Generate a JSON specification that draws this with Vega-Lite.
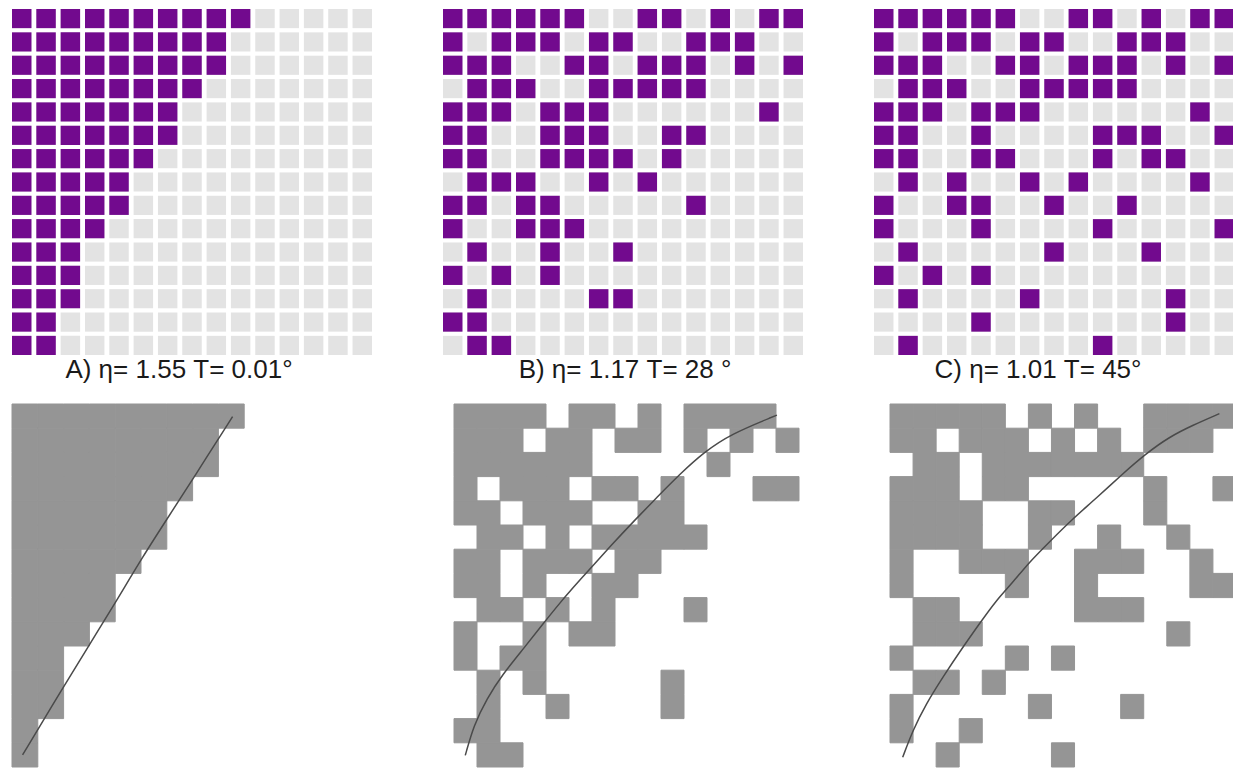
{
 "$schema": "https://vega.github.io/schema/vega-lite/v6.json",
 "padding": {"left": 11, "top": 9, "right": 0, "bottom": 0},
 "background": "white",
 "config": {"view": {"stroke": null}},
 "datasets": {
  "grid": [
   {"r":1,"c":1},{"r":1,"c":2},{"r":1,"c":3},{"r":1,"c":4},{"r":1,"c":5},{"r":1,"c":6},{"r":1,"c":7},{"r":1,"c":8},{"r":1,"c":9},{"r":1,"c":10},{"r":1,"c":11},{"r":1,"c":12},{"r":1,"c":13},{"r":1,"c":14},{"r":1,"c":15},
   {"r":2,"c":1},{"r":2,"c":2},{"r":2,"c":3},{"r":2,"c":4},{"r":2,"c":5},{"r":2,"c":6},{"r":2,"c":7},{"r":2,"c":8},{"r":2,"c":9},{"r":2,"c":10},{"r":2,"c":11},{"r":2,"c":12},{"r":2,"c":13},{"r":2,"c":14},{"r":2,"c":15},
   {"r":3,"c":1},{"r":3,"c":2},{"r":3,"c":3},{"r":3,"c":4},{"r":3,"c":5},{"r":3,"c":6},{"r":3,"c":7},{"r":3,"c":8},{"r":3,"c":9},{"r":3,"c":10},{"r":3,"c":11},{"r":3,"c":12},{"r":3,"c":13},{"r":3,"c":14},{"r":3,"c":15},
   {"r":4,"c":1},{"r":4,"c":2},{"r":4,"c":3},{"r":4,"c":4},{"r":4,"c":5},{"r":4,"c":6},{"r":4,"c":7},{"r":4,"c":8},{"r":4,"c":9},{"r":4,"c":10},{"r":4,"c":11},{"r":4,"c":12},{"r":4,"c":13},{"r":4,"c":14},{"r":4,"c":15},
   {"r":5,"c":1},{"r":5,"c":2},{"r":5,"c":3},{"r":5,"c":4},{"r":5,"c":5},{"r":5,"c":6},{"r":5,"c":7},{"r":5,"c":8},{"r":5,"c":9},{"r":5,"c":10},{"r":5,"c":11},{"r":5,"c":12},{"r":5,"c":13},{"r":5,"c":14},{"r":5,"c":15},
   {"r":6,"c":1},{"r":6,"c":2},{"r":6,"c":3},{"r":6,"c":4},{"r":6,"c":5},{"r":6,"c":6},{"r":6,"c":7},{"r":6,"c":8},{"r":6,"c":9},{"r":6,"c":10},{"r":6,"c":11},{"r":6,"c":12},{"r":6,"c":13},{"r":6,"c":14},{"r":6,"c":15},
   {"r":7,"c":1},{"r":7,"c":2},{"r":7,"c":3},{"r":7,"c":4},{"r":7,"c":5},{"r":7,"c":6},{"r":7,"c":7},{"r":7,"c":8},{"r":7,"c":9},{"r":7,"c":10},{"r":7,"c":11},{"r":7,"c":12},{"r":7,"c":13},{"r":7,"c":14},{"r":7,"c":15},
   {"r":8,"c":1},{"r":8,"c":2},{"r":8,"c":3},{"r":8,"c":4},{"r":8,"c":5},{"r":8,"c":6},{"r":8,"c":7},{"r":8,"c":8},{"r":8,"c":9},{"r":8,"c":10},{"r":8,"c":11},{"r":8,"c":12},{"r":8,"c":13},{"r":8,"c":14},{"r":8,"c":15},
   {"r":9,"c":1},{"r":9,"c":2},{"r":9,"c":3},{"r":9,"c":4},{"r":9,"c":5},{"r":9,"c":6},{"r":9,"c":7},{"r":9,"c":8},{"r":9,"c":9},{"r":9,"c":10},{"r":9,"c":11},{"r":9,"c":12},{"r":9,"c":13},{"r":9,"c":14},{"r":9,"c":15},
   {"r":10,"c":1},{"r":10,"c":2},{"r":10,"c":3},{"r":10,"c":4},{"r":10,"c":5},{"r":10,"c":6},{"r":10,"c":7},{"r":10,"c":8},{"r":10,"c":9},{"r":10,"c":10},{"r":10,"c":11},{"r":10,"c":12},{"r":10,"c":13},{"r":10,"c":14},{"r":10,"c":15},
   {"r":11,"c":1},{"r":11,"c":2},{"r":11,"c":3},{"r":11,"c":4},{"r":11,"c":5},{"r":11,"c":6},{"r":11,"c":7},{"r":11,"c":8},{"r":11,"c":9},{"r":11,"c":10},{"r":11,"c":11},{"r":11,"c":12},{"r":11,"c":13},{"r":11,"c":14},{"r":11,"c":15},
   {"r":12,"c":1},{"r":12,"c":2},{"r":12,"c":3},{"r":12,"c":4},{"r":12,"c":5},{"r":12,"c":6},{"r":12,"c":7},{"r":12,"c":8},{"r":12,"c":9},{"r":12,"c":10},{"r":12,"c":11},{"r":12,"c":12},{"r":12,"c":13},{"r":12,"c":14},{"r":12,"c":15},
   {"r":13,"c":1},{"r":13,"c":2},{"r":13,"c":3},{"r":13,"c":4},{"r":13,"c":5},{"r":13,"c":6},{"r":13,"c":7},{"r":13,"c":8},{"r":13,"c":9},{"r":13,"c":10},{"r":13,"c":11},{"r":13,"c":12},{"r":13,"c":13},{"r":13,"c":14},{"r":13,"c":15},
   {"r":14,"c":1},{"r":14,"c":2},{"r":14,"c":3},{"r":14,"c":4},{"r":14,"c":5},{"r":14,"c":6},{"r":14,"c":7},{"r":14,"c":8},{"r":14,"c":9},{"r":14,"c":10},{"r":14,"c":11},{"r":14,"c":12},{"r":14,"c":13},{"r":14,"c":14},{"r":14,"c":15},
   {"r":15,"c":1},{"r":15,"c":2},{"r":15,"c":3},{"r":15,"c":4},{"r":15,"c":5},{"r":15,"c":6},{"r":15,"c":7},{"r":15,"c":8},{"r":15,"c":9},{"r":15,"c":10},{"r":15,"c":11},{"r":15,"c":12},{"r":15,"c":13},{"r":15,"c":14},{"r":15,"c":15}
  ],
  "purple": [
   {"p":"A","r":1,"c":1},{"p":"A","r":1,"c":2},{"p":"A","r":1,"c":3},{"p":"A","r":1,"c":4},{"p":"A","r":1,"c":5},{"p":"A","r":1,"c":6},{"p":"A","r":1,"c":7},{"p":"A","r":1,"c":8},{"p":"A","r":1,"c":9},{"p":"A","r":1,"c":10},
   {"p":"A","r":2,"c":1},{"p":"A","r":2,"c":2},{"p":"A","r":2,"c":3},{"p":"A","r":2,"c":4},{"p":"A","r":2,"c":5},{"p":"A","r":2,"c":6},{"p":"A","r":2,"c":7},{"p":"A","r":2,"c":8},{"p":"A","r":2,"c":9},
   {"p":"A","r":3,"c":1},{"p":"A","r":3,"c":2},{"p":"A","r":3,"c":3},{"p":"A","r":3,"c":4},{"p":"A","r":3,"c":5},{"p":"A","r":3,"c":6},{"p":"A","r":3,"c":7},{"p":"A","r":3,"c":8},{"p":"A","r":3,"c":9},
   {"p":"A","r":4,"c":1},{"p":"A","r":4,"c":2},{"p":"A","r":4,"c":3},{"p":"A","r":4,"c":4},{"p":"A","r":4,"c":5},{"p":"A","r":4,"c":6},{"p":"A","r":4,"c":7},{"p":"A","r":4,"c":8},
   {"p":"A","r":5,"c":1},{"p":"A","r":5,"c":2},{"p":"A","r":5,"c":3},{"p":"A","r":5,"c":4},{"p":"A","r":5,"c":5},{"p":"A","r":5,"c":6},{"p":"A","r":5,"c":7},
   {"p":"A","r":6,"c":1},{"p":"A","r":6,"c":2},{"p":"A","r":6,"c":3},{"p":"A","r":6,"c":4},{"p":"A","r":6,"c":5},{"p":"A","r":6,"c":6},{"p":"A","r":6,"c":7},
   {"p":"A","r":7,"c":1},{"p":"A","r":7,"c":2},{"p":"A","r":7,"c":3},{"p":"A","r":7,"c":4},{"p":"A","r":7,"c":5},{"p":"A","r":7,"c":6},
   {"p":"A","r":8,"c":1},{"p":"A","r":8,"c":2},{"p":"A","r":8,"c":3},{"p":"A","r":8,"c":4},{"p":"A","r":8,"c":5},
   {"p":"A","r":9,"c":1},{"p":"A","r":9,"c":2},{"p":"A","r":9,"c":3},{"p":"A","r":9,"c":4},{"p":"A","r":9,"c":5},
   {"p":"A","r":10,"c":1},{"p":"A","r":10,"c":2},{"p":"A","r":10,"c":3},{"p":"A","r":10,"c":4},
   {"p":"A","r":11,"c":1},{"p":"A","r":11,"c":2},{"p":"A","r":11,"c":3},
   {"p":"A","r":12,"c":1},{"p":"A","r":12,"c":2},{"p":"A","r":12,"c":3},
   {"p":"A","r":13,"c":1},{"p":"A","r":13,"c":2},{"p":"A","r":13,"c":3},
   {"p":"A","r":14,"c":1},{"p":"A","r":14,"c":2},
   {"p":"A","r":15,"c":1},{"p":"A","r":15,"c":2},
   {"p":"B","r":1,"c":1},{"p":"B","r":1,"c":2},{"p":"B","r":1,"c":3},{"p":"B","r":1,"c":4},{"p":"B","r":1,"c":5},{"p":"B","r":1,"c":6},{"p":"B","r":1,"c":9},{"p":"B","r":1,"c":10},{"p":"B","r":1,"c":12},{"p":"B","r":1,"c":14},{"p":"B","r":1,"c":15},
   {"p":"B","r":2,"c":1},{"p":"B","r":2,"c":3},{"p":"B","r":2,"c":4},{"p":"B","r":2,"c":5},{"p":"B","r":2,"c":7},{"p":"B","r":2,"c":8},{"p":"B","r":2,"c":11},{"p":"B","r":2,"c":12},{"p":"B","r":2,"c":13},
   {"p":"B","r":3,"c":1},{"p":"B","r":3,"c":2},{"p":"B","r":3,"c":3},{"p":"B","r":3,"c":6},{"p":"B","r":3,"c":7},{"p":"B","r":3,"c":9},{"p":"B","r":3,"c":10},{"p":"B","r":3,"c":11},{"p":"B","r":3,"c":13},{"p":"B","r":3,"c":15},
   {"p":"B","r":4,"c":2},{"p":"B","r":4,"c":3},{"p":"B","r":4,"c":4},{"p":"B","r":4,"c":7},{"p":"B","r":4,"c":8},{"p":"B","r":4,"c":9},{"p":"B","r":4,"c":10},{"p":"B","r":4,"c":11},
   {"p":"B","r":5,"c":1},{"p":"B","r":5,"c":2},{"p":"B","r":5,"c":3},{"p":"B","r":5,"c":5},{"p":"B","r":5,"c":6},{"p":"B","r":5,"c":7},{"p":"B","r":5,"c":14},
   {"p":"B","r":6,"c":1},{"p":"B","r":6,"c":2},{"p":"B","r":6,"c":5},{"p":"B","r":6,"c":6},{"p":"B","r":6,"c":7},{"p":"B","r":6,"c":10},{"p":"B","r":6,"c":11},
   {"p":"B","r":7,"c":1},{"p":"B","r":7,"c":2},{"p":"B","r":7,"c":5},{"p":"B","r":7,"c":6},{"p":"B","r":7,"c":7},{"p":"B","r":7,"c":8},{"p":"B","r":7,"c":10},
   {"p":"B","r":8,"c":2},{"p":"B","r":8,"c":3},{"p":"B","r":8,"c":4},{"p":"B","r":8,"c":7},{"p":"B","r":8,"c":9},
   {"p":"B","r":9,"c":1},{"p":"B","r":9,"c":2},{"p":"B","r":9,"c":4},{"p":"B","r":9,"c":5},{"p":"B","r":9,"c":11},
   {"p":"B","r":10,"c":1},{"p":"B","r":10,"c":4},{"p":"B","r":10,"c":5},{"p":"B","r":10,"c":6},
   {"p":"B","r":11,"c":2},{"p":"B","r":11,"c":5},{"p":"B","r":11,"c":8},
   {"p":"B","r":12,"c":1},{"p":"B","r":12,"c":3},{"p":"B","r":12,"c":5},
   {"p":"B","r":13,"c":2},{"p":"B","r":13,"c":7},{"p":"B","r":13,"c":8},
   {"p":"B","r":14,"c":1},{"p":"B","r":14,"c":2},
   {"p":"B","r":15,"c":2},{"p":"B","r":15,"c":3},
   {"p":"C","r":1,"c":1},{"p":"C","r":1,"c":2},{"p":"C","r":1,"c":3},{"p":"C","r":1,"c":4},{"p":"C","r":1,"c":5},{"p":"C","r":1,"c":6},{"p":"C","r":1,"c":9},{"p":"C","r":1,"c":10},{"p":"C","r":1,"c":12},{"p":"C","r":1,"c":14},{"p":"C","r":1,"c":15},
   {"p":"C","r":2,"c":1},{"p":"C","r":2,"c":3},{"p":"C","r":2,"c":4},{"p":"C","r":2,"c":5},{"p":"C","r":2,"c":7},{"p":"C","r":2,"c":8},{"p":"C","r":2,"c":11},{"p":"C","r":2,"c":12},{"p":"C","r":2,"c":13},
   {"p":"C","r":3,"c":1},{"p":"C","r":3,"c":2},{"p":"C","r":3,"c":3},{"p":"C","r":3,"c":6},{"p":"C","r":3,"c":7},{"p":"C","r":3,"c":9},{"p":"C","r":3,"c":10},{"p":"C","r":3,"c":11},{"p":"C","r":3,"c":13},{"p":"C","r":3,"c":15},
   {"p":"C","r":4,"c":2},{"p":"C","r":4,"c":3},{"p":"C","r":4,"c":4},{"p":"C","r":4,"c":7},{"p":"C","r":4,"c":8},{"p":"C","r":4,"c":9},{"p":"C","r":4,"c":10},{"p":"C","r":4,"c":11},
   {"p":"C","r":5,"c":1},{"p":"C","r":5,"c":2},{"p":"C","r":5,"c":3},{"p":"C","r":5,"c":5},{"p":"C","r":5,"c":6},{"p":"C","r":5,"c":7},{"p":"C","r":5,"c":14},
   {"p":"C","r":6,"c":1},{"p":"C","r":6,"c":2},{"p":"C","r":6,"c":5},{"p":"C","r":6,"c":10},{"p":"C","r":6,"c":11},{"p":"C","r":6,"c":12},{"p":"C","r":6,"c":15},
   {"p":"C","r":7,"c":1},{"p":"C","r":7,"c":2},{"p":"C","r":7,"c":5},{"p":"C","r":7,"c":6},{"p":"C","r":7,"c":10},{"p":"C","r":7,"c":12},{"p":"C","r":7,"c":13},
   {"p":"C","r":8,"c":2},{"p":"C","r":8,"c":4},{"p":"C","r":8,"c":7},{"p":"C","r":8,"c":9},{"p":"C","r":8,"c":14},
   {"p":"C","r":9,"c":1},{"p":"C","r":9,"c":4},{"p":"C","r":9,"c":5},{"p":"C","r":9,"c":8},{"p":"C","r":9,"c":11},
   {"p":"C","r":10,"c":1},{"p":"C","r":10,"c":5},{"p":"C","r":10,"c":10},{"p":"C","r":10,"c":15},
   {"p":"C","r":11,"c":2},{"p":"C","r":11,"c":8},{"p":"C","r":11,"c":12},
   {"p":"C","r":12,"c":1},{"p":"C","r":12,"c":3},{"p":"C","r":12,"c":5},
   {"p":"C","r":13,"c":2},{"p":"C","r":13,"c":7},{"p":"C","r":13,"c":13},
   {"p":"C","r":14,"c":5},{"p":"C","r":14,"c":13},
   {"p":"C","r":15,"c":2},{"p":"C","r":15,"c":10}
  ],
  "gray": [
   {"p":"A","r":1,"c":1},{"p":"A","r":1,"c":2},{"p":"A","r":1,"c":3},{"p":"A","r":1,"c":4},{"p":"A","r":1,"c":5},{"p":"A","r":1,"c":6},{"p":"A","r":1,"c":7},{"p":"A","r":1,"c":8},{"p":"A","r":1,"c":9},
   {"p":"A","r":2,"c":1},{"p":"A","r":2,"c":2},{"p":"A","r":2,"c":3},{"p":"A","r":2,"c":4},{"p":"A","r":2,"c":5},{"p":"A","r":2,"c":6},{"p":"A","r":2,"c":7},{"p":"A","r":2,"c":8},
   {"p":"A","r":3,"c":1},{"p":"A","r":3,"c":2},{"p":"A","r":3,"c":3},{"p":"A","r":3,"c":4},{"p":"A","r":3,"c":5},{"p":"A","r":3,"c":6},{"p":"A","r":3,"c":7},{"p":"A","r":3,"c":8},
   {"p":"A","r":4,"c":1},{"p":"A","r":4,"c":2},{"p":"A","r":4,"c":3},{"p":"A","r":4,"c":4},{"p":"A","r":4,"c":5},{"p":"A","r":4,"c":6},{"p":"A","r":4,"c":7},
   {"p":"A","r":5,"c":1},{"p":"A","r":5,"c":2},{"p":"A","r":5,"c":3},{"p":"A","r":5,"c":4},{"p":"A","r":5,"c":5},{"p":"A","r":5,"c":6},
   {"p":"A","r":6,"c":1},{"p":"A","r":6,"c":2},{"p":"A","r":6,"c":3},{"p":"A","r":6,"c":4},{"p":"A","r":6,"c":5},{"p":"A","r":6,"c":6},
   {"p":"A","r":7,"c":1},{"p":"A","r":7,"c":2},{"p":"A","r":7,"c":3},{"p":"A","r":7,"c":4},{"p":"A","r":7,"c":5},
   {"p":"A","r":8,"c":1},{"p":"A","r":8,"c":2},{"p":"A","r":8,"c":3},{"p":"A","r":8,"c":4},
   {"p":"A","r":9,"c":1},{"p":"A","r":9,"c":2},{"p":"A","r":9,"c":3},{"p":"A","r":9,"c":4},
   {"p":"A","r":10,"c":1},{"p":"A","r":10,"c":2},{"p":"A","r":10,"c":3},
   {"p":"A","r":11,"c":1},{"p":"A","r":11,"c":2},
   {"p":"A","r":12,"c":1},{"p":"A","r":12,"c":2},
   {"p":"A","r":13,"c":1},{"p":"A","r":13,"c":2},
   {"p":"A","r":14,"c":1},
   {"p":"A","r":15,"c":1},
   {"p":"B","r":1,"c":1},{"p":"B","r":1,"c":2},{"p":"B","r":1,"c":3},{"p":"B","r":1,"c":4},{"p":"B","r":1,"c":6},{"p":"B","r":1,"c":7},{"p":"B","r":1,"c":9},{"p":"B","r":1,"c":11},{"p":"B","r":1,"c":12},{"p":"B","r":1,"c":13},{"p":"B","r":1,"c":14},
   {"p":"B","r":2,"c":1},{"p":"B","r":2,"c":2},{"p":"B","r":2,"c":3},{"p":"B","r":2,"c":5},{"p":"B","r":2,"c":6},{"p":"B","r":2,"c":8},{"p":"B","r":2,"c":9},{"p":"B","r":2,"c":11},{"p":"B","r":2,"c":13},{"p":"B","r":2,"c":15},
   {"p":"B","r":3,"c":1},{"p":"B","r":3,"c":2},{"p":"B","r":3,"c":3},{"p":"B","r":3,"c":4},{"p":"B","r":3,"c":5},{"p":"B","r":3,"c":6},{"p":"B","r":3,"c":12},
   {"p":"B","r":4,"c":1},{"p":"B","r":4,"c":3},{"p":"B","r":4,"c":4},{"p":"B","r":4,"c":5},{"p":"B","r":4,"c":7},{"p":"B","r":4,"c":8},{"p":"B","r":4,"c":10},{"p":"B","r":4,"c":14},{"p":"B","r":4,"c":15},
   {"p":"B","r":5,"c":1},{"p":"B","r":5,"c":2},{"p":"B","r":5,"c":4},{"p":"B","r":5,"c":5},{"p":"B","r":5,"c":6},{"p":"B","r":5,"c":9},{"p":"B","r":5,"c":10},
   {"p":"B","r":6,"c":2},{"p":"B","r":6,"c":3},{"p":"B","r":6,"c":5},{"p":"B","r":6,"c":7},{"p":"B","r":6,"c":8},{"p":"B","r":6,"c":9},{"p":"B","r":6,"c":10},{"p":"B","r":6,"c":11},
   {"p":"B","r":7,"c":1},{"p":"B","r":7,"c":2},{"p":"B","r":7,"c":4},{"p":"B","r":7,"c":5},{"p":"B","r":7,"c":6},{"p":"B","r":7,"c":8},{"p":"B","r":7,"c":9},
   {"p":"B","r":8,"c":1},{"p":"B","r":8,"c":2},{"p":"B","r":8,"c":4},{"p":"B","r":8,"c":7},{"p":"B","r":8,"c":8},
   {"p":"B","r":9,"c":2},{"p":"B","r":9,"c":3},{"p":"B","r":9,"c":5},{"p":"B","r":9,"c":7},{"p":"B","r":9,"c":11},
   {"p":"B","r":10,"c":1},{"p":"B","r":10,"c":4},{"p":"B","r":10,"c":6},{"p":"B","r":10,"c":7},
   {"p":"B","r":11,"c":1},{"p":"B","r":11,"c":3},{"p":"B","r":11,"c":4},
   {"p":"B","r":12,"c":2},{"p":"B","r":12,"c":4},{"p":"B","r":12,"c":10},
   {"p":"B","r":13,"c":2},{"p":"B","r":13,"c":5},{"p":"B","r":13,"c":10},
   {"p":"B","r":14,"c":1},{"p":"B","r":14,"c":2},
   {"p":"B","r":15,"c":2},{"p":"B","r":15,"c":3},
   {"p":"C","r":1,"c":1},{"p":"C","r":1,"c":2},{"p":"C","r":1,"c":3},{"p":"C","r":1,"c":4},{"p":"C","r":1,"c":5},{"p":"C","r":1,"c":7},{"p":"C","r":1,"c":9},{"p":"C","r":1,"c":12},{"p":"C","r":1,"c":13},{"p":"C","r":1,"c":14},{"p":"C","r":1,"c":15},
   {"p":"C","r":2,"c":1},{"p":"C","r":2,"c":2},{"p":"C","r":2,"c":4},{"p":"C","r":2,"c":5},{"p":"C","r":2,"c":6},{"p":"C","r":2,"c":8},{"p":"C","r":2,"c":10},{"p":"C","r":2,"c":12},{"p":"C","r":2,"c":13},{"p":"C","r":2,"c":14},
   {"p":"C","r":3,"c":2},{"p":"C","r":3,"c":3},{"p":"C","r":3,"c":5},{"p":"C","r":3,"c":6},{"p":"C","r":3,"c":7},{"p":"C","r":3,"c":8},{"p":"C","r":3,"c":9},{"p":"C","r":3,"c":10},{"p":"C","r":3,"c":11},
   {"p":"C","r":4,"c":1},{"p":"C","r":4,"c":2},{"p":"C","r":4,"c":3},{"p":"C","r":4,"c":5},{"p":"C","r":4,"c":6},{"p":"C","r":4,"c":12},{"p":"C","r":4,"c":15},
   {"p":"C","r":5,"c":1},{"p":"C","r":5,"c":2},{"p":"C","r":5,"c":3},{"p":"C","r":5,"c":4},{"p":"C","r":5,"c":7},{"p":"C","r":5,"c":8},{"p":"C","r":5,"c":12},
   {"p":"C","r":6,"c":1},{"p":"C","r":6,"c":2},{"p":"C","r":6,"c":3},{"p":"C","r":6,"c":4},{"p":"C","r":6,"c":7},{"p":"C","r":6,"c":10},{"p":"C","r":6,"c":13},
   {"p":"C","r":7,"c":1},{"p":"C","r":7,"c":4},{"p":"C","r":7,"c":5},{"p":"C","r":7,"c":6},{"p":"C","r":7,"c":9},{"p":"C","r":7,"c":10},{"p":"C","r":7,"c":11},{"p":"C","r":7,"c":14},
   {"p":"C","r":8,"c":1},{"p":"C","r":8,"c":6},{"p":"C","r":8,"c":9},{"p":"C","r":8,"c":14},{"p":"C","r":8,"c":15},
   {"p":"C","r":9,"c":2},{"p":"C","r":9,"c":3},{"p":"C","r":9,"c":9},{"p":"C","r":9,"c":10},{"p":"C","r":9,"c":11},
   {"p":"C","r":10,"c":2},{"p":"C","r":10,"c":3},{"p":"C","r":10,"c":4},{"p":"C","r":10,"c":13},
   {"p":"C","r":11,"c":1},{"p":"C","r":11,"c":6},{"p":"C","r":11,"c":8},
   {"p":"C","r":12,"c":2},{"p":"C","r":12,"c":3},{"p":"C","r":12,"c":5},
   {"p":"C","r":13,"c":1},{"p":"C","r":13,"c":7},{"p":"C","r":13,"c":11},
   {"p":"C","r":14,"c":1},{"p":"C","r":14,"c":4},
   {"p":"C","r":15,"c":3},{"p":"C","r":15,"c":8}
  ],
  "curves": [
   {"p":"A","x":0.41,"y":14.5},{"p":"A","x":1.96,"y":11.75},{"p":"A","x":3.0,"y":9.95},{"p":"A","x":4.03,"y":8.17},{"p":"A","x":5.07,"y":6.3},{"p":"A","x":6.1,"y":4.6},{"p":"A","x":7.07,"y":3.0},{"p":"A","x":8.55,"y":0.52},
   {"p":"B","x":0.49,"y":14.52},{"p":"B","x":0.86,"y":13.27},{"p":"B","x":1.43,"y":12.17},{"p":"B","x":2.09,"y":11.2},{"p":"B","x":3.03,"y":10.1},{"p":"B","x":3.9,"y":9.05},{"p":"B","x":4.62,"y":8.2},{"p":"B","x":5.35,"y":7.4},{"p":"B","x":6.94,"y":5.73},{"p":"B","x":7.81,"y":4.85},{"p":"B","x":8.83,"y":3.85},{"p":"B","x":9.84,"y":2.88},{"p":"B","x":10.86,"y":2.0},{"p":"B","x":12.01,"y":1.25},{"p":"B","x":14.04,"y":0.46},
   {"p":"C","x":0.55,"y":14.6},{"p":"C","x":0.98,"y":13.5},{"p":"C","x":1.56,"y":12.4},{"p":"C","x":2.28,"y":11.3},{"p":"C","x":3.15,"y":10.06},{"p":"C","x":3.87,"y":9.09},{"p":"C","x":4.59,"y":8.13},{"p":"C","x":5.3,"y":7.4},{"p":"C","x":6.04,"y":6.53},{"p":"C","x":6.91,"y":5.7},{"p":"C","x":7.92,"y":4.74},{"p":"C","x":8.93,"y":3.91},{"p":"C","x":10.09,"y":2.88},{"p":"C","x":11.1,"y":2.05},{"p":"C","x":12.11,"y":1.36},{"p":"C","x":13.12,"y":0.88},{"p":"C","x":14.28,"y":0.4}
  ]
 },
 "spacing": 20,
 "vconcat": [
  {
   "spacing": 71,
   "hconcat": [
    {
     "width": 360, "height": 346,
     "title": {"text": "A) η= 1.55 T= 0.01°", "orient": "bottom", "offset": 23, "baseline": "alphabetic", "fontSize": 26, "font": "Liberation Sans", "fontWeight": "normal", "color": "#1a1a1a", "dx": -13},
     "layer": [
      {"data": {"name": "grid"}, "mark": {"type": "rect", "color": "#e3e3e3"},
       "encoding": {"x": {"field": "c", "type": "ordinal", "scale": {"domain": [1,2,3,4,5,6,7,8,9,10,11,12,13,14,15], "paddingInner": 0.2, "paddingOuter": 0}, "axis": null},
                    "y": {"field": "r", "type": "ordinal", "scale": {"domain": [1,2,3,4,5,6,7,8,9,10,11,12,13,14,15], "paddingInner": 0.18, "paddingOuter": 0}, "axis": null}}},
      {"data": {"name": "purple"}, "transform": [{"filter": "datum.p === 'A'"}], "mark": {"type": "rect", "color": "#720a8e"},
       "encoding": {"x": {"field": "c", "type": "ordinal", "axis": null}, "y": {"field": "r", "type": "ordinal", "axis": null}}}
     ]
    },
    {
     "width": 360, "height": 346,
     "title": {"text": "B) η= 1.17 T= 28 °", "orient": "bottom", "offset": 23, "baseline": "alphabetic", "fontSize": 26, "font": "Liberation Sans", "fontWeight": "normal", "color": "#1a1a1a", "dx": 2},
     "layer": [
      {"data": {"name": "grid"}, "mark": {"type": "rect", "color": "#e3e3e3"},
       "encoding": {"x": {"field": "c", "type": "ordinal", "scale": {"domain": [1,2,3,4,5,6,7,8,9,10,11,12,13,14,15], "paddingInner": 0.2, "paddingOuter": 0}, "axis": null},
                    "y": {"field": "r", "type": "ordinal", "scale": {"domain": [1,2,3,4,5,6,7,8,9,10,11,12,13,14,15], "paddingInner": 0.18, "paddingOuter": 0}, "axis": null}}},
      {"data": {"name": "purple"}, "transform": [{"filter": "datum.p === 'B'"}], "mark": {"type": "rect", "color": "#720a8e"},
       "encoding": {"x": {"field": "c", "type": "ordinal", "axis": null}, "y": {"field": "r", "type": "ordinal", "axis": null}}}
     ]
    },
    {
     "width": 360, "height": 346,
     "title": {"text": "C) η= 1.01 T= 45°", "orient": "bottom", "offset": 23, "baseline": "alphabetic", "fontSize": 26, "font": "Liberation Sans", "fontWeight": "normal", "color": "#1a1a1a", "dx": -16},
     "layer": [
      {"data": {"name": "grid"}, "mark": {"type": "rect", "color": "#e3e3e3"},
       "encoding": {"x": {"field": "c", "type": "ordinal", "scale": {"domain": [1,2,3,4,5,6,7,8,9,10,11,12,13,14,15], "paddingInner": 0.2, "paddingOuter": 0}, "axis": null},
                    "y": {"field": "r", "type": "ordinal", "scale": {"domain": [1,2,3,4,5,6,7,8,9,10,11,12,13,14,15], "paddingInner": 0.18, "paddingOuter": 0}, "axis": null}}},
      {"data": {"name": "purple"}, "transform": [{"filter": "datum.p === 'C'"}], "mark": {"type": "rect", "color": "#720a8e"},
       "encoding": {"x": {"field": "c", "type": "ordinal", "axis": null}, "y": {"field": "r", "type": "ordinal", "axis": null}}}
     ]
    }
   ]
  },
  {
   "spacing": 54,
   "hconcat": [
    {
     "width": 387, "height": 363,
     "layer": [
      {"data": {"name": "gray"}, "transform": [{"filter": "datum.p === 'A'"}], "mark": {"type": "rect", "color": "#959595", "stroke": "#959595", "strokeWidth": 1},
       "encoding": {"x": {"field": "c", "type": "ordinal", "scale": {"domain": [1,2,3,4,5,6,7,8,9,10,11,12,13,14,15], "paddingInner": 0, "paddingOuter": 0}, "axis": null},
                    "y": {"field": "r", "type": "ordinal", "scale": {"domain": [1,2,3,4,5,6,7,8,9,10,11,12,13,14,15], "paddingInner": 0, "paddingOuter": 0}, "axis": null}}},
      {"data": {"name": "curves"}, "transform": [{"filter": "datum.p === 'A'"}], "mark": {"type": "line", "color": "#4a4a4a", "strokeWidth": 1.5, "interpolate": "basis"},
       "encoding": {"x": {"field": "x", "type": "quantitative", "scale": {"domain": [0, 15], "nice": false, "zero": false}, "axis": null},
                    "y": {"field": "y", "type": "quantitative", "scale": {"domain": [0, 15], "nice": false, "zero": false, "reverse": true}, "axis": null}}}
     ],
     "resolve": {"scale": {"x": "independent", "y": "independent"}}
    },
    {
     "width": 381, "height": 363,
     "layer": [
      {"data": {"name": "gray"}, "transform": [{"filter": "datum.p === 'B'"}], "mark": {"type": "rect", "color": "#959595", "stroke": "#959595", "strokeWidth": 1},
       "encoding": {"x": {"field": "c", "type": "ordinal", "scale": {"domain": [1,2,3,4,5,6,7,8,9,10,11,12,13,14,15], "paddingInner": 0, "paddingOuter": 0.7826, "align": 0}, "axis": null},
                    "y": {"field": "r", "type": "ordinal", "scale": {"domain": [1,2,3,4,5,6,7,8,9,10,11,12,13,14,15], "paddingInner": 0, "paddingOuter": 0}, "axis": null}}},
      {"data": {"name": "curves"}, "transform": [{"filter": "datum.p === 'B'"}], "mark": {"type": "line", "color": "#4a4a4a", "strokeWidth": 1.5, "interpolate": "basis"},
       "encoding": {"x": {"field": "x", "type": "quantitative", "scale": {"domain": [0, 16.565], "nice": false, "zero": false}, "axis": null},
                    "y": {"field": "y", "type": "quantitative", "scale": {"domain": [0, 15], "nice": false, "zero": false, "reverse": true}, "axis": null}}}
     ],
     "resolve": {"scale": {"x": "independent", "y": "independent"}}
    },
    {
     "width": 346, "height": 363,
     "layer": [
      {"data": {"name": "gray"}, "transform": [{"filter": "datum.p === 'C'"}], "mark": {"type": "rect", "color": "#959595", "stroke": "#959595", "strokeWidth": 1},
       "encoding": {"x": {"field": "c", "type": "ordinal", "scale": {"domain": [1,2,3,4,5,6,7,8,9,10,11,12,13,14,15], "paddingInner": 0, "paddingOuter": 0}, "axis": null},
                    "y": {"field": "r", "type": "ordinal", "scale": {"domain": [1,2,3,4,5,6,7,8,9,10,11,12,13,14,15], "paddingInner": 0, "paddingOuter": 0}, "axis": null}}},
      {"data": {"name": "curves"}, "transform": [{"filter": "datum.p === 'C'"}], "mark": {"type": "line", "color": "#4a4a4a", "strokeWidth": 1.5, "interpolate": "basis"},
       "encoding": {"x": {"field": "x", "type": "quantitative", "scale": {"domain": [0, 15], "nice": false, "zero": false}, "axis": null},
                    "y": {"field": "y", "type": "quantitative", "scale": {"domain": [0, 15], "nice": false, "zero": false, "reverse": true}, "axis": null}}}
     ],
     "resolve": {"scale": {"x": "independent", "y": "independent"}}
    }
   ]
  }
 ]
}
